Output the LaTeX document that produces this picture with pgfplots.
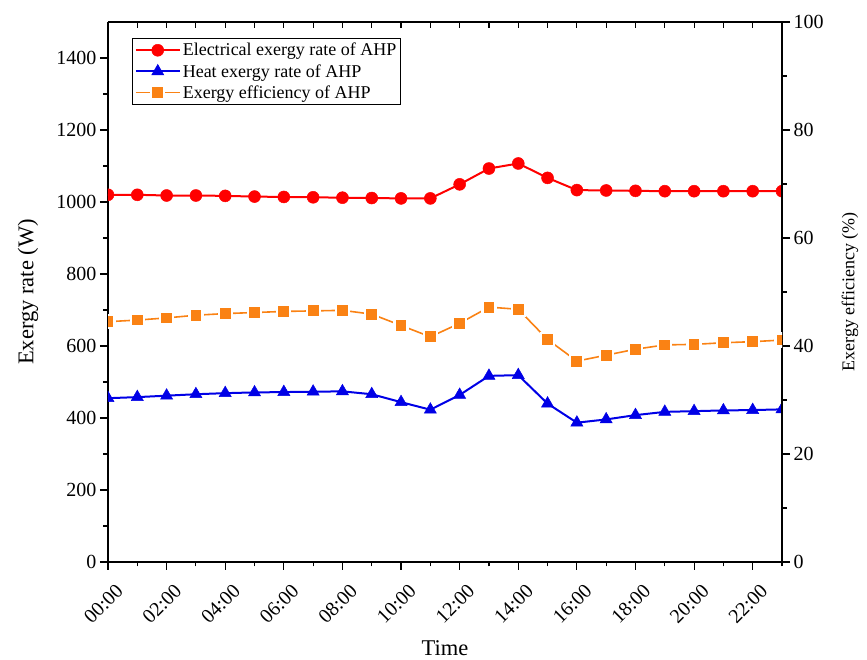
\documentclass[border=0pt]{standalone}
\usepackage{pgfplots}
\pgfplotsset{compat=1.18}
\usepackage{pgfplotstable}
\usepackage{fontspec}
\setmainfont{Liberation Serif}

\definecolor{myred}{RGB}{255,0,0}
\definecolor{myblue}{RGB}{0,0,230}
\definecolor{myorange}{RGB}{250,130,20}

\pgfplotstableread{
x el heat eff
0 1020 455 44.5
1 1020 458 44.8
2 1018 462 45.2
3 1018 466 45.7
4 1017 469 46.0
5 1015 471 46.2
6 1014 472 46.4
7 1013 473 46.5
8 1012 474 46.6
9 1011 466 45.9
10 1010 444 43.8
11 1010 423 41.7
12 1049 464 44.2
13 1093 517 47.2
14 1107 519 46.8
15 1067 440 41.2
16 1033 387 37.2
17 1032 396 38.3
18 1031 408 39.4
19 1030 417 40.2
20 1030 419 40.3
21 1030 421 40.6
22 1030 422 40.8
23 1030 424 41.1
}\datatable

\pgfplotsset{
  base/.style={
    scale only axis, width=674pt, height=540pt,
    xmin=0, xmax=23,
    tick label style={font=\fontsize{20}{24}\selectfont},
    /pgf/number format/assume math mode=true,
    /pgf/number format/set thousands separator={},
    axis line style={line width=1.2pt},
    major tick length=8pt, minor tick length=4.5pt,
    every tick/.style={black, line width=1.1pt},
    clip marker paths=true,
  },
  redst/.style={myred, line width=2pt, mark=*, mark size=6pt, mark options={solid, fill=myred, draw=myred, line width=0.5pt}},
  bluest/.style={myblue, line width=2pt, mark=triangle*, mark size=7pt, mark options={solid, fill=myblue, draw=myblue, line width=0.5pt}},
  orangest/.style={myorange, line width=1.6pt, mark=square*, mark size=6.5pt, mark options={solid, fill=myorange, draw=white, line width=2.2pt}},
}

\begin{document}
\begin{tikzpicture}
\begin{axis}[base, name=ax,
  ymin=0, ymax=1500,
  ytick={0,200,...,1400}, minor y tick num=1,
  xtick={0,2,...,22},
  xticklabels={00:00,02:00,04:00,06:00,08:00,10:00,12:00,14:00,16:00,18:00,20:00,22:00},
  minor xtick={1,3,...,23},
  axis x line*=bottom, axis y line*=left, tick align=outside,
  xticklabel style={xshift=14pt, yshift=-15pt, rotate=45, anchor=east},
  ylabel={Exergy rate (W)},
  xlabel={Time},
  every axis y label/.style={at={(rel axis cs:0,0.5)}, xshift=-80pt, rotate=90, anchor=center, font=\fontsize{22.5}{26}\selectfont},
  every axis x label/.style={at={(rel axis cs:0.5,0)}, yshift=-86pt, anchor=center, font=\fontsize{22.5}{26}\selectfont},
]
\addplot[redst] table[x=x, y=el] {\datatable};
\addplot[bluest] table[x=x, y=heat] {\datatable};
\end{axis}
\begin{axis}[base,
  ymin=0, ymax=1,
  axis x line*=top, axis y line=none, tick align=inside,
  xtick={0,1,...,23}, xticklabels={}, ytick=\empty,
  major tick length=6pt,
]
\end{axis}
\begin{axis}[base,
  ymin=0, ymax=100,
  ytick={0,20,...,100}, minor y tick num=1,
  axis y line*=right, axis x line=none, tick align=outside,
  xtick=\empty,
  ylabel={Exergy efficiency (\%)},
  every axis y label/.style={at={(rel axis cs:1,0.5)}, xshift=68pt, rotate=90, anchor=center, font=\fontsize{18}{22}\selectfont},
  legend style={at={(0.036,0.970)}, anchor=north west, draw=black, line width=1pt,
    font=\fontsize{18}{21}\selectfont, inner xsep=2pt, inner ysep=2.5pt, row sep=3pt},
  legend cell align=left,
  legend image code/.code={\draw[mark repeat=2, mark phase=2, #1] plot coordinates {(0pt,0pt) (22pt,0pt) (44pt,0pt)};},
]
\addlegendimage{redst}
\addlegendentry{Electrical exergy rate of AHP}
\addlegendimage{bluest}
\addlegendentry{Heat exergy rate of AHP}
\addplot[orangest] table[x=x, y=eff] {\datatable};
\addlegendentry{Exergy efficiency of AHP}
\end{axis}
\pgfresetboundingbox
\path ([xshift=-108pt,yshift=-98pt]ax.south west) rectangle ([xshift=85pt,yshift=22pt]ax.north east);
\end{tikzpicture}
\end{document}
